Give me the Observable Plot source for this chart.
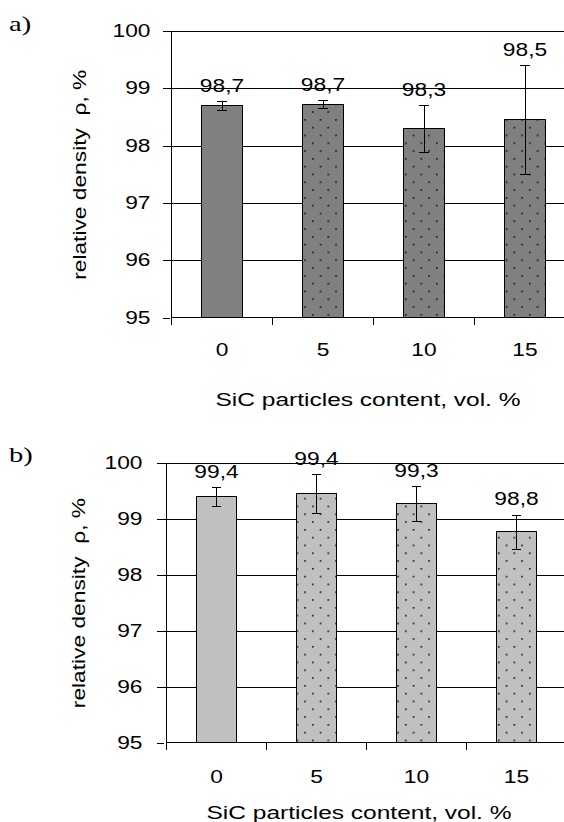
<!DOCTYPE html>
<html><head><meta charset="utf-8">
<script src="https://cdn.jsdelivr.net/npm/d3@7"></script>
<script src="https://cdn.jsdelivr.net/npm/@observablehq/plot@0.6"></script>
<style>
html,body{margin:0;padding:0;background:#fff;}
#page{position:relative;width:564px;height:822px;overflow:hidden;background:#fff;}
#page svg{max-width:none !important;}
.panel{position:absolute;left:0;}
.tag{position:absolute;left:9px;font-family:"Liberation Serif",serif;font-size:22px;line-height:22px;transform:scaleX(1.3);transform-origin:0 0;color:#000;}
</style></head><body>
<div id="page">
  <div class="panel" id="pa" style="top:0px"></div>
  <div class="panel" id="pb" style="top:410px"></div>
  <div class="tag" style="top:13px">a)</div>
  <div class="tag" style="top:444px">b)</div>
</div>
<script>
const categories = ["0", "5", "10", "15"];
const patterned = [false, true, true, true];
const densityA = [98.70, 98.72, 98.30, 98.45];
const errorA = [0.08, 0.07, 0.41, 0.95];
const labelsA = ["98,7", "98,7", "98,3", "98,5"];
const densityB = [99.39, 99.44, 99.27, 98.76];
const errorB = [0.17, 0.35, 0.31, 0.31];
const labelsB = ["99,4", "99,4", "99,3", "98,8"];
const yTicks = [95, 96, 97, 98, 99, 100];
const xTitle = "SiC particles content, vol. %";
const yTitle = "relative density  ρ, %";

const K = 1.3;      // horizontal glyph stretch of the original lettering
const KTITLE = 1.4; // x-axis title is a little wider still

function chart(cfg) {
  const data = categories.map((c, i) => ({
    c, v: cfg.values[i], lo: cfg.values[i] - cfg.errors[i], hi: cfg.values[i] + cfg.errors[i],
    label: cfg.labels[i], dots: patterned[i]
  }));
  const y0 = yTicks[0], y1 = yTicks[yTicks.length - 1];
  const crisp = {shapeRendering: "crispEdges"};
  const frameLines = (index, scales, values, dims) => {
    const g = d3.create("svg:g").attr("stroke", "#000").attr("stroke-width", 1).attr("fill", "none")
      .attr("shape-rendering", "crispEdges");
    const xL = scales.x(categories[0]);
    const xR = dims.width - dims.marginRight;
    const yB = scales.y(y0), yT = scales.y(y1);
    g.append("path").attr("d", `M${xL},${yT}V${yB}H${xR}`);
    const bounds = categories.map(c => scales.x(c)).concat([xR]);
    for (const bx of bounds) g.append("line").attr("x1", bx).attr("x2", bx).attr("y1", yB).attr("y2", yB + 7);
    return g.node();
  };
  const svg = Plot.plot({
    width: 600, height: cfg.height,
    marginLeft: cfg.ml, marginRight: cfg.mr, marginTop: cfg.mt, marginBottom: cfg.mb,
    style: {fontFamily: '"Liberation Sans", Arial, sans-serif', fontSize: "17.5px", color: "#000", background: "transparent"},
    x: {domain: categories, padding: 0, axis: null},
    y: {domain: [y0, y1], axis: null},
    marks: [
      Plot.ruleY(yTicks.slice(1), {stroke: "#000", strokeOpacity: 1, ...crisp}),
      Plot.barY(data, {x: "c", y1: y0, y2: "v", fill: cfg.fill, stroke: "#000", insetLeft: 30, insetRight: 30, ...crisp}),
      Plot.barY(data.filter(d => d.dots), {x: "c", y1: y0, y2: "v", fill: `url(#dots-${cfg.id})`, insetLeft: 30, insetRight: 30}),
      Plot.ruleX(data, {x: "c", y1: "lo", y2: "hi", stroke: "#000", ...crisp}),
      Plot.tickY(data, {x: "c", y: "hi", stroke: "#000", insetLeft: 45.5, insetRight: 45.5, ...crisp}),
      Plot.tickY(data, {x: "c", y: "lo", stroke: "#000", insetLeft: 45.5, insetRight: 45.5, ...crisp}),
      Plot.text(data, {x: "c", y: "hi", text: "label", dy: -15.5, fill: "#000", textAnchor: "middle", lineAnchor: "middle"}),
      Plot.axisY({ticks: yTicks, tickSize: 7, tickPadding: cfg.ypad, label: null, stroke: "#000", tickFormat: d => String(d), ...crisp}),
      Plot.axisX({tickSize: 0, tickPadding: cfg.xpad, label: null}),
      Plot.text([yTitle], {frameAnchor: "left", rotate: -90, dx: cfg.ytdx, fill: "#000", textAnchor: "middle", lineAnchor: "middle"}),
      Plot.text([xTitle], {frameAnchor: "bottom", dy: cfg.xtdy, dx: cfg.xtdx, fill: "#000", textAnchor: "middle", lineAnchor: "middle"}),
      frameLines
    ]
  });
  const defs = d3.select(svg).insert("defs", ":first-child");
  const p = defs.append("pattern").attr("id", `dots-${cfg.id}`).attr("patternUnits", "userSpaceOnUse")
    .attr("width", 15.5).attr("height", 15.6);
  p.append("rect").attr("x", 2).attr("y", 2).attr("width", 1.6).attr("height", 1.6).attr("fill", "#111");
  p.append("rect").attr("x", 9.75).attr("y", 9.8).attr("width", 1.6).attr("height", 1.6).attr("fill", "#111");
  document.getElementById(cfg.el).appendChild(svg);
  svg.querySelectorAll("text").forEach(t => {
    const len = t.getComputedTextLength();
    const k = t.textContent === xTitle ? KTITLE : K;
    if (len > 0) { t.setAttribute("textLength", len * k); t.setAttribute("lengthAdjust", "spacingAndGlyphs"); }
  });
}

chart({id: "a", el: "pa", values: densityA, errors: errorA, labels: labelsA, fill: "#808080",
  height: 410, ml: 170, mr: 24, mt: 31, mb: 92.5, ypad: 13, xpad: 26, ytdx: -90, xtdy: 82, xtdx: -5.5});
chart({id: "b", el: "pb", values: densityB, errors: errorB, labels: labelsB, fill: "#c0c0c0",
  height: 412, ml: 164, mr: 33, mt: 52.5, mb: 79.3, ypad: 15, xpad: 27, ytdx: -85, xtdy: 70, xtdx: -7});
</script>
</body></html>
